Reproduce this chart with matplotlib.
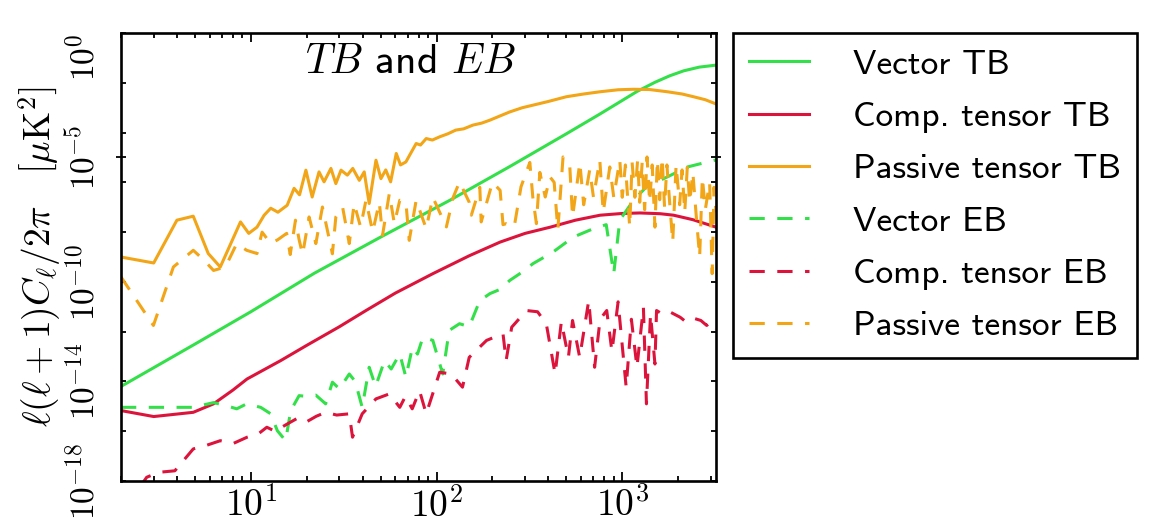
import numpy as np
import matplotlib
matplotlib.use("Agg")
import matplotlib.pyplot as plt
from matplotlib.font_manager import FontProperties

plt.rcParams["mathtext.fontset"] = "cm"
plt.rcParams["lines.scale_dashes"] = False

# multipole moments and log10 of l(l+1)C_l/2pi [muK^2] for each spectrum
vector_tb_ell = [2, 5, 10, 22, 50, 118, 250, 500, 760, 1200, 1500, 1800, 2140, 2600, 3200]
vector_tb_log = [-14.2, -12.5, -11.2, -9.65, -8.2, -6.72, -5.35, -4.05, -3.25, -2.35,
                 -1.98, -1.72, -1.52, -1.37, -1.29]

comp_tb_ell = [2, 3, 4.9, 6.3, 8, 9.55, 14.5, 20, 30, 41.7, 60, 95.5, 150, 220, 300, 410,
               560, 760, 1000, 1250, 1600, 1890, 2400, 3200]
comp_tb_log = [-15.17, -15.41, -15.24, -14.9, -14.35, -13.9, -13.16, -12.55, -11.8, -11.15,
               -10.45, -9.67, -8.95, -8.4, -8.05, -7.8, -7.52, -7.32, -7.25, -7.23, -7.26,
               -7.32, -7.5, -7.8]

passive_tb_ell = [2.0, 3.0, 4.0, 4.9, 5.9, 6.85, 8.8, 9.75, 10.8, 11.8, 12.8, 14.0, 15.7, 17.1,
                  18.3, 19.8, 21.4, 23.3, 24.8, 27.0, 28.7, 30.6, 33.1, 35.4, 38.4, 40.8, 43.4,
                  47.2, 50.2, 53.3, 56.6, 60.7, 64, 68.4, 73, 77.7, 82, 88, 95, 104, 115, 127,
                  140, 157, 175, 194, 220, 248, 290, 330, 400, 500, 620, 760, 950, 1150, 1400,
                  1750, 2100, 2420, 2800, 3200]
passive_tb_log = [-9.0, -9.24, -7.52, -7.36, -8.86, -9.4, -7.59, -8.05, -7.8, -7.32, -7.04, -7.2,
                  -6.92, -6.24, -6.5, -5.51, -6.59, -5.58, -5.98, -5.44, -6.05, -5.51, -5.71,
                  -5.44, -5.92, -5.58, -6.85, -5.11, -5.85, -5.5, -5.98, -4.84, -5.3, -5.18,
                  -4.8, -4.44, -4.5, -4.24, -4.3, -4.17, -4.05, -3.9, -3.85, -3.7, -3.62, -3.5,
                  -3.33, -3.17, -3.0, -2.9, -2.75, -2.56, -2.45, -2.36, -2.28, -2.26, -2.27,
                  -2.36, -2.45, -2.56, -2.68, -2.85]

vector_eb_ell = [2, 3, 4.9, 6.3, 7.2, 8.4, 9.5, 11.3, 12.8, 13.9, 15.4, 16.4, 18.2, 20, 22.4,
                 25.3, 27.5, 30, 33.9, 36.5, 39.8, 43.4, 47, 52.5, 57, 63.4, 68.4, 74.2, 79,
                 84.5, 95.5, 108, 117, 133, 150, 171, 194, 220, 248, 290, 330, 424, 545, 700,
                 820, 900, 970, 1150, 1350, 1750, 2250, 2880, 3200]
vector_eb_log = [-15.04, -15.04, -15.04, -14.85, -14.95, -15.1, -14.9, -15.04, -15.3, -15.98,
                 -16.38, -15.17, -14.57, -14.6, -14.55, -14.9, -14.03, -14.3, -13.7, -14.0,
                 -15.04, -13.43, -14.2, -13.16, -13.5, -12.89, -13.83, -12.62, -12.9, -12.22,
                 -12.35, -13.7, -11.95, -11.68, -11.8, -10.75, -10.47, -10.3, -9.94, -9.6,
                 -9.27, -8.8, -8.2, -7.86, -7.7, -9.67, -7.52, -6.72, -6.18, -5.78, -5.38,
                 -5.18, -5.1]

comp_eb_ell = [2.0, 2.4, 2.75, 3.2, 3.9, 4.9, 5.6, 6.85, 8, 9.55, 11, 12.2, 13.5, 15.7, 18.2,
               20.2, 22.5, 25.3, 29, 33.9, 35.3, 39.8, 47.2, 55.7, 63.4, 68, 74, 81, 88, 104,
               120, 138, 150, 186, 228, 237, 254, 305, 350, 390, 435, 470, 513, 540, 590, 660,
               710, 760, 825, 880, 950, 1050, 1120, 1200, 1300, 1350, 1420, 1500, 1530, 1650,
               1800, 2050, 2200, 2400, 2650, 2850, 3000, 3200]
comp_eb_log = [-19.0, -18.5, -17.85, -17.65, -17.59, -16.71, -16.6, -16.38, -16.5, -16.24,
               -16.1, -15.84, -16.0, -15.71, -15.44, -15.6, -15.4, -15.24, -15.35, -15.3,
               -16.24, -15.3, -14.7, -14.5, -15.04, -14.6, -15.1, -14.37, -15.3, -13.63,
               -13.7, -14.23, -13.03, -12.35, -12.08, -13.16, -11.82, -11.15, -11.2, -11.68,
               -13.7, -11.6, -13.03, -11.55, -13.03, -10.75, -13.43, -11.5, -11.15, -12.8,
               -10.8, -14.23, -11.5, -13.43, -11.02, -14.9, -11.3, -13.3, -11.15, -11.3,
               -11.2, -11.42, -11.6, -11.45, -11.55, -11.75, -11.6, -11.88]

passive_eb_ell = [2.0, 2.99, 3.83, 4.9, 5.6, 6.3, 7.3, 8.4, 9.5, 10.8, 11.5, 12.8, 14, 15.6,
                  16.3, 17.4, 18.2, 19.0, 20.6, 22.4, 24.3, 27.5, 28.7, 31.2, 33.9, 36, 39,
                  41.7, 45.3, 49.2, 51.2, 55.7, 59.3, 63.4, 68.4, 71.3, 77.7, 88, 95.5, 113,
                  123, 133, 150, 154, 171, 174, 200, 220, 228, 237, 262, 285, 318, 330, 345,
                  360, 385, 408, 430, 450, 480, 522, 540, 570, 591, 620, 668, 700, 757, 790,
                  857, 900, 970, 1000, 1040, 1097, 1130, 1170, 1210, 1242, 1280, 1320, 1360,
                  1405, 1450, 1500, 1545, 1591, 1640, 1690, 1740, 1800, 1870, 1950, 2038, 2100,
                  2170, 2240, 2307, 2400, 2500, 2611, 2700, 2800, 2955, 3050, 3120, 3200]
passive_eb_log = [-9.8, -11.75, -9.4, -8.73, -9.13, -9.54, -9.4, -8.46, -8.73, -8.86, -8.0,
                  -8.46, -8.3, -8.05, -8.9, -7.52, -8.3, -8.9, -7.39, -8.46, -6.99, -8.87,
                  -7.39, -6.99, -8.46, -6.85, -7.79, -6.72, -7.99, -6.8, -8.13, -6.45, -7.66,
                  -6.72, -6.8, -8.33, -6.72, -7.86, -6.6, -7.79, -6.6, -5.98, -6.8, -7.32,
                  -6.2, -7.59, -6.0, -6.32, -7.7, -7.66, -7.79, -6.18, -5.2, -6.6, -7.66, -5.6,
                  -6.59, -5.78, -6.0, -7.9, -4.98, -5.38, -7.39, -6.1, -5.2, -6.9, -5.5, -6.6,
                  -5.1, -7.2, -5.38, -6.6, -5.1, -6.6, -5.3, -7.79, -5.2, -6.6, -5.1, -6.8,
                  -5.2, -7.1, -4.98, -6.8, -5.3, -7.8, -5.1, -6.7, -5.0, -7.0, -5.3, -6.8,
                  -8.4, -5.3, -6.9, -5.5, -7.2, -5.4, -6.8, -5.6, -7.3, -9.0, -5.8, -7.1,
                  -6.0, -9.67, -6.2, -7.2]

legend_labels = ["Vector TB", "Comp. tensor TB", "Passive tensor TB",
                 "Vector EB", "Comp. tensor EB", "Passive tensor EB"]
x_tick_values = [10, 100, 1000]
x_tick_labels = [r"$10^{1}$", r"$10^{2}$", r"$10^{3}$"]
y_tick_values = [1e0, 1e-5, 1e-10, 1e-14, 1e-18]
y_tick_labels = [r"$10^{0}$", r"$10^{-5}$", r"$10^{-10}$", r"$10^{-14}$", r"$10^{-18}$"]
y_minor_values = [1e-2, 1e-4, 1e-6, 1e-8, 1e-12, 1e-16]

GREEN = "#33e04a"
RED = "#dc143c"
ORANGE = "#f2a516"
DASH = (0, (11, 9))
LW = 2.2

fig = plt.figure(figsize=(11.49, 5.25), dpi=100)
ax = fig.add_axes([0.1053, 0.0838, 0.5179, 0.8533])

series = [
    (vector_tb_ell, vector_tb_log, GREEN, "-"),
    (comp_tb_ell, comp_tb_log, RED, "-"),
    (passive_tb_ell, passive_tb_log, ORANGE, "-"),
    (vector_eb_ell, vector_eb_log, GREEN, DASH),
    (comp_eb_ell, comp_eb_log, RED, DASH),
    (passive_eb_ell, passive_eb_log, ORANGE, DASH),
]
handles = []
for (ell, lg, col, ls), lab in zip(series, legend_labels):
    h, = ax.plot(ell, 10.0 ** np.asarray(lg), color=col, ls=ls, lw=LW, label=lab)
    handles.append(h)

ax.set_xscale("log")
ax.set_yscale("log")
ax.set_xlim(2, 3200)
ax.set_ylim(1e-18, 1e0)

# x ticks
ax.set_xticks(x_tick_values)
ax.set_xticklabels(x_tick_labels, fontsize=27)
ax.xaxis.set_minor_locator(matplotlib.ticker.LogLocator(base=10, subs=np.arange(2, 10)))
ax.xaxis.set_minor_formatter(matplotlib.ticker.NullFormatter())

# y ticks (labels rotated)
ax.set_yticks(y_tick_values)
ax.set_yticklabels(y_tick_labels, fontsize=24, rotation=90, va="center")
ax.set_yticks(y_minor_values, minor=True)
ax.yaxis.set_minor_formatter(matplotlib.ticker.NullFormatter())
ax.get_yticklabels()[0].set_va("top")

ax.tick_params(which="both", direction="in", top=True, right=True, width=1.3)
ax.tick_params(axis="x", which="major", length=6.5, pad=5)
ax.tick_params(axis="x", which="minor", length=3.3)
ax.tick_params(axis="y", which="both", length=3.6)
ax.tick_params(axis="y", which="major", pad=14)

# the 1e-5 tick crosses the frame on both sides
t5 = ax.yaxis.get_major_ticks()[1]
for ln in (t5.tick1line, t5.tick2line):
    ln.set_marker("_")
    ln.set_markersize(7)

for sp in ax.spines.values():
    sp.set_linewidth(1.9)

ax.set_ylabel(r"$\ell(\ell+1)C_\ell/2\pi\quad\left[\mu\mathrm{K}^2\right]$", fontsize=27)
ax.yaxis.set_label_coords(-0.098, 0.5)

ax.text((410 - 121) / 595, 0.935, r"$TB$ and $EB$", transform=ax.transAxes, ha="center",
        va="center", fontsize=30, family="cmss10")

leg = fig.legend(handles=handles, labels=legend_labels, loc="upper left",
                 bbox_to_anchor=(733 / 1149, 492 / 525), bbox_transform=fig.transFigure,
                 borderaxespad=0, prop=FontProperties(family="cmss10", size=25.5),
                 handlelength=1.7, handletextpad=1.25, borderpad=0.45, labelspacing=0.58,
                 fancybox=False, framealpha=1, edgecolor="black")
leg.get_frame().set_linewidth(1.9)

fig.savefig("out.png", dpi=100)
